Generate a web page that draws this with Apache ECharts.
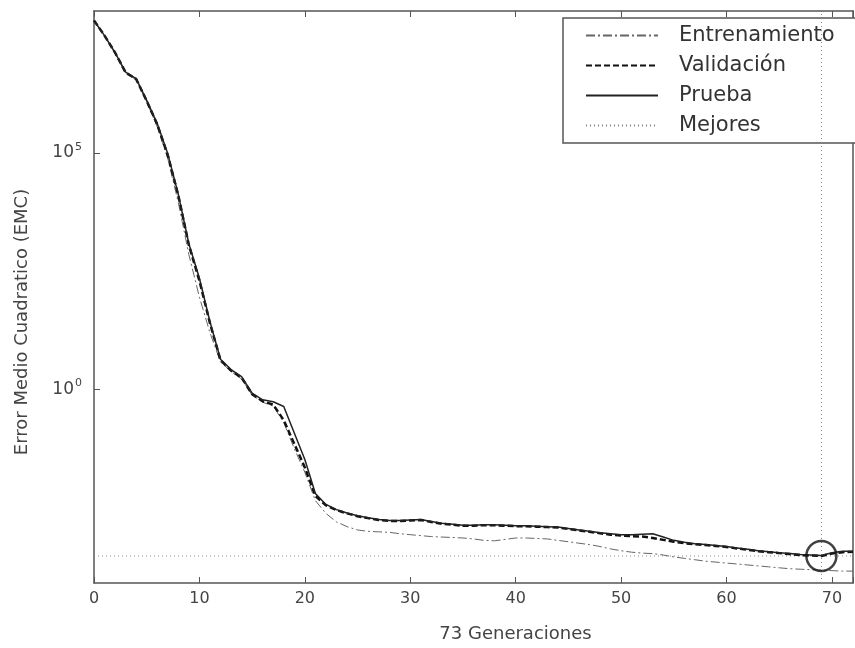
<!DOCTYPE html>
<html>
<head>
<meta charset="utf-8">
<script src="https://cdn.jsdelivr.net/npm/echarts@6/dist/echarts.min.js"></script>
<style>
  html, body { margin: 0; padding: 0; background: #fff; }
  #chart { width: 855px; height: 648px; }
</style>
</head>
<body>
<div id="chart"></div>
<script>
// generaciones 0..72, error as log10(EMC)
const trainExp = [7.80, 7.47, 7.10, 6.68, 6.55, 6.08, 5.55, 4.88, 3.95, 2.85,
  1.95, 1.20, 0.58, 0.38, 0.22, -0.12, -0.27, -0.35, -0.70, -1.25,
  -1.75, -2.35, -2.62, -2.80, -2.90, -2.97, -3.00, -3.01, -3.02, -3.05,
  -3.07, -3.09, -3.11, -3.12, -3.13, -3.14, -3.16, -3.19, -3.20, -3.17,
  -3.14, -3.14, -3.15, -3.16, -3.19, -3.22, -3.25, -3.28, -3.32, -3.37,
  -3.41, -3.44, -3.46, -3.47, -3.50, -3.54, -3.57, -3.60, -3.63, -3.65,
  -3.67, -3.69, -3.71, -3.73, -3.75, -3.77, -3.79, -3.80, -3.81, -3.82,
  -3.83, -3.84, -3.84];
const validExp = [7.80, 7.48, 7.12, 6.70, 6.56, 6.10, 5.60, 4.95, 4.10, 3.05,
  2.30, 1.40, 0.62, 0.40, 0.25, -0.10, -0.25, -0.32, -0.65, -1.15,
  -1.65, -2.25, -2.45, -2.55, -2.62, -2.68, -2.72, -2.76, -2.78, -2.78,
  -2.77, -2.76, -2.80, -2.84, -2.86, -2.88, -2.88, -2.87, -2.87, -2.88,
  -2.89, -2.89, -2.90, -2.91, -2.92, -2.95, -2.98, -3.01, -3.04, -3.07,
  -3.09, -3.10, -3.11, -3.14, -3.18, -3.22, -3.25, -3.27, -3.29, -3.31,
  -3.33, -3.36, -3.39, -3.42, -3.44, -3.46, -3.48, -3.50, -3.51, -3.52,
  -3.47, -3.44, -3.43];
const testExp = [7.80, 7.48, 7.12, 6.71, 6.57, 6.11, 5.62, 4.98, 4.12, 3.08,
  2.35, 1.43, 0.64, 0.42, 0.27, -0.08, -0.22, -0.26, -0.36, -0.92,
  -1.48, -2.20, -2.43, -2.54, -2.61, -2.67, -2.71, -2.75, -2.77, -2.77,
  -2.76, -2.75, -2.79, -2.83, -2.85, -2.87, -2.87, -2.86, -2.86, -2.87,
  -2.88, -2.88, -2.89, -2.90, -2.91, -2.94, -2.97, -3.00, -3.03, -3.05,
  -3.07, -3.07, -3.06, -3.05, -3.12, -3.19, -3.23, -3.26, -3.28, -3.30,
  -3.32, -3.35, -3.38, -3.41, -3.43, -3.45, -3.47, -3.49, -3.50, -3.51,
  -3.45, -3.42, -3.42];
const bestEpoch = 69;
const bestExp = -3.52;
const xTicks = [0, 10, 20, 30, 40, 50, 60, 70];
const yTicks = [1, 1e5];

const toPairs = arr => arr.map((e, i) => [i, Math.pow(10, e)]);
const bestVal = Math.pow(10, bestExp);

const font = 'DejaVu Sans';
const axisGray = '#555';

const chart = echarts.init(document.getElementById('chart'));
chart.setOption({
  animation: false,
  backgroundColor: '#fff',
  grid: { left: 94, right: 2, top: 11, bottom: 64 },
  legend: {
    orient: 'vertical',
    left: 563,
    top: 18,
    padding: [7, 40, 7, 22],
    itemWidth: 72,
    itemHeight: 20,
    itemGap: 9,
    backgroundColor: '#fff',
    borderColor: '#555',
    borderWidth: 1.5,
    itemStyle: { color: 'rgba(0,0,0,0)', borderWidth: 0, opacity: 0 },
    data: ['Entrenamiento', 'Validación', 'Prueba', 'Mejores'],
    textStyle: { fontFamily: font, fontSize: 21, color: '#333', padding: [0, 0, 0, 16] }
  },
  xAxis: [{
    type: 'value', min: 0, max: 72, interval: 10,
    name: '73 Generaciones', nameLocation: 'middle', nameGap: 42,
    nameMoveOverlap: false,
    nameTextStyle: { fontFamily: font, fontSize: 18, color: '#444', padding: [0, 0, 0, 84] },
    axisLine: { show: true, onZero: false, lineStyle: { color: axisGray, width: 1.5 } },
    axisTick: { inside: true, length: 6, lineStyle: { color: axisGray } },
    axisLabel: {
      fontFamily: font, fontSize: 16, color: '#444', margin: 8,
      customValues: xTicks
    },
    splitLine: { show: false }
  }, {
    type: 'value', min: 0, max: 72, interval: 10, position: 'top',
    axisLine: { show: true, onZero: false, lineStyle: { color: axisGray, width: 1.5 } },
    axisTick: { inside: true, length: 6, lineStyle: { color: axisGray } },
    axisLabel: { show: false },
    splitLine: { show: false }
  }],
  yAxis: [{
    type: 'log', logBase: 10, min: 8.1e-5, max: 1e8,
    axisLine: { show: true, onZero: false, lineStyle: { color: axisGray, width: 1.5 } },
    axisTick: { inside: true, length: 6, lineStyle: { color: axisGray }, customValues: yTicks },
    axisLabel: {
      customValues: yTicks,
      margin: 12,
      formatter: v => '{b|10}{s|' + Math.round(Math.log10(v)) + '}',
      rich: {
        b: { fontFamily: font, fontSize: 17, color: '#444' },
        s: { fontFamily: font, fontSize: 11, color: '#444', padding: [0, 0, 12, 1] }
      }
    },
    splitLine: { show: false }
  }, {
    type: 'log', logBase: 10, min: 8.1e-5, max: 1e8, position: 'right',
    axisLine: { show: true, onZero: false, lineStyle: { color: axisGray, width: 1.5 } },
    axisTick: { show: false },
    axisLabel: { show: false },
    splitLine: { show: false }
  }],
  graphic: [{
    type: 'text',
    x: 22, y: 322,
    rotation: Math.PI / 2,
    style: {
      text: 'Error Medio Cuadratico (EMC)',
      font: '18px "DejaVu Sans"',
      fill: '#444',
      textAlign: 'center',
      textVerticalAlign: 'middle'
    }
  }],
  series: [
    {
      name: 'Entrenamiento', type: 'line', symbol: 'none', z: 3,
      lineStyle: { color: '#666', width: 1, type: [9, 3, 2, 3] },
      itemStyle: { color: '#666' },
      data: toPairs(trainExp)
    },
    {
      name: 'Validación', type: 'line', symbol: 'none', z: 4,
      lineStyle: { color: '#111', width: 2.5, type: [6, 3] },
      itemStyle: { color: '#111' },
      data: toPairs(validExp)
    },
    {
      name: 'Prueba', type: 'line', symbol: 'none', z: 5,
      lineStyle: { color: '#222', width: 1.5, type: 'solid' },
      itemStyle: { color: '#222' },
      data: toPairs(testExp)
    },
    {
      name: 'Mejores', type: 'line', symbol: 'none', z: 2,
      lineStyle: { color: '#888', width: 1, type: [1, 3] },
      itemStyle: { color: '#888' },
      data: [[0, bestVal], [72, bestVal]],
      markLine: {
        silent: true, symbol: 'none', label: { show: false },
        lineStyle: { color: '#888', width: 1, type: [1, 3] },
        data: [{ xAxis: bestEpoch }]
      }
    },
    {
      name: 'best', type: 'scatter', z: 6,
      symbol: 'circle', symbolSize: 30,
      itemStyle: { color: 'rgba(0,0,0,0)', borderColor: '#111', borderWidth: 2.5 },
      data: [[bestEpoch, bestVal]]
    }
  ]
});
</script>
</body>
</html>
